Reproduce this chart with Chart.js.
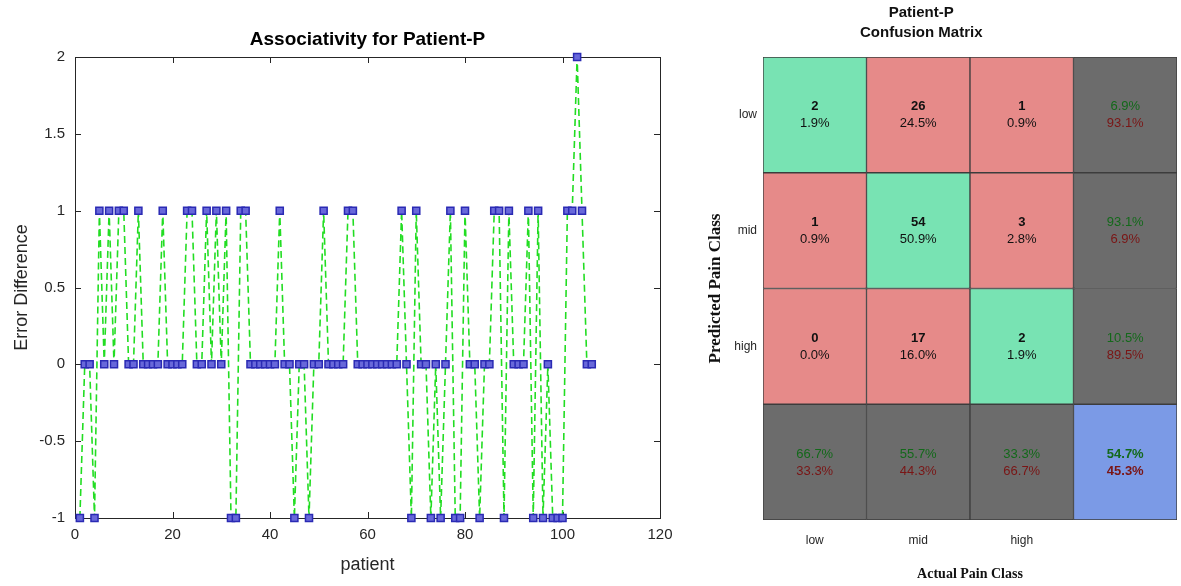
<!DOCTYPE html>
<html>
<head>
<meta charset="utf-8">
<script src="https://cdn.jsdelivr.net/npm/chart.js@4.4.1/dist/chart.umd.min.js"></script>
<style>
  body { margin: 0; background: #fff; }
  #assoc { position: absolute; left: 0; top: 0; }
  #confusion { position: absolute; left: 690px; top: 0; }
</style>
</head>
<body>
<canvas id="assoc" width="690" height="586"></canvas>
<canvas id="confusion" width="491" height="586"></canvas>
<script>
// error difference per patient (patient 1..106)
const errorDiff = [
  -1, 0, 0, -1, 1, 0, 1, 0, 1, 1,
  0, 0, 1, 0, 0, 0, 0, 1, 0, 0,
  0, 0, 1, 1, 0, 0, 1, 0, 1, 0,
  1, -1, -1, 1, 1, 0, 0, 0, 0, 0,
  0, 1, 0, 0, -1, 0, 0, -1, 0, 0,
  1, 0, 0, 0, 0, 1, 1, 0, 0, 0,
  0, 0, 0, 0, 0, 0, 1, 0, -1, 1,
  0, 0, -1, 0, -1, 0, 1, -1, -1, 1,
  0, 0, -1, 0, 0, 1, 1, -1, 1, 0,
  0, 0, 1, -1, 1, -1, 0, -1, -1, -1,
  1, 1, 2, 1, 0, 0
];

// confusion matrix: rows = predicted, columns = actual
const classes = ["low", "mid", "high"];
const counts = [
  [2, 26, 1],
  [1, 54, 3],
  [0, 17, 2]
];

const FONT = "'Liberation Sans', Arial, sans-serif";
const SERIF = "'Liberation Serif', 'Times New Roman', serif";
const TEXT = "#262626";

// ---------- left: associativity plot ----------
const points = errorDiff.map((v, i) => ({ x: i + 1, y: v }));

// box + inward ticks like matlab axes, title centred on the axes
const framePlugin = {
  id: "frame",
  beforeDatasetsDraw(chart) {
    const { ctx, chartArea: a, scales } = chart;
    ctx.save();
    ctx.strokeStyle = TEXT;
    ctx.lineWidth = 1;
    ctx.strokeRect(a.left + 0.5, a.top + 0.5, a.right - a.left, a.bottom - a.top);
    ctx.beginPath();
    scales.x.ticks.forEach(t => {
      const px = Math.round(scales.x.getPixelForValue(t.value)) + 0.5;
      ctx.moveTo(px, a.bottom); ctx.lineTo(px, a.bottom - 6);
      ctx.moveTo(px, a.top); ctx.lineTo(px, a.top + 6);
    });
    scales.y.ticks.forEach(t => {
      const py = Math.round(scales.y.getPixelForValue(t.value)) + 0.5;
      ctx.moveTo(a.left, py); ctx.lineTo(a.left + 6, py);
      ctx.moveTo(a.right, py); ctx.lineTo(a.right - 6, py);
    });
    ctx.stroke();

    ctx.fillStyle = "#000";
    ctx.font = "bold 19px " + FONT;
    ctx.textAlign = "center";
    ctx.textBaseline = "middle";
    ctx.fillText("Associativity for Patient-P", (a.left + a.right) / 2, 40);
    ctx.restore();
  }
};

new Chart(document.getElementById("assoc"), {
  type: "line",
  data: {
    datasets: [{
      data: points,
      borderColor: "#22dd22",
      borderWidth: 1.6,
      borderDash: [7, 4],
      pointStyle: "rect",
      pointRadius: 5,
      pointBackgroundColor: "#6868da",
      pointBorderColor: "#2a2ab4",
      pointBorderWidth: 1.5,
      tension: 0,
      clip: false
    }]
  },
  options: {
    responsive: false,
    animation: false,
    layout: { padding: { left: 0, right: 30, top: 57, bottom: 0 } },
    plugins: {
      legend: { display: false },
      tooltip: { enabled: false }
    },
    scales: {
      x: {
        type: "linear",
        min: 0, max: 120,
        ticks: { stepSize: 20, color: TEXT, font: { family: FONT, size: 15 }, padding: 8, maxRotation: 0 },
        grid: { display: false, drawTicks: false },
        border: { display: false },
        title: { display: true, text: "patient", color: TEXT, font: { family: FONT, size: 18 }, padding: { bottom: 10 } },
        afterFit: s => { s.height = 68; }
      },
      y: {
        min: -1, max: 2,
        ticks: { stepSize: 0.5, color: TEXT, font: { family: FONT, size: 15 }, padding: 10, callback: v => String(v) },
        grid: { display: false, drawTicks: false },
        border: { display: false },
        title: { display: true, text: "Error Difference", color: TEXT, font: { family: FONT, size: 18 }, padding: { top: 11 } },
        afterFit: s => { s.width = 75; }
      }
    }
  },
  plugins: [framePlugin]
});

// ---------- right: confusion matrix ----------
const GREEN = "#78e3b3";
const RED = "#e68a89";
const GREY = "#6c6c6c";
const BLUE = "#7b9ae6";

const total = counts.flat().reduce((a, b) => a + b, 0);
const rowSum = counts.map(r => r.reduce((a, b) => a + b, 0));
const colSum = classes.map((_, j) => counts.reduce((a, r) => a + r[j], 0));
const diagSum = counts.reduce((a, r, i) => a + r[i], 0);
const pct = v => (v * 100).toFixed(1) + "%";

// stacked bars: dataset 0 is the bottom (summary) row, dataset 3 the top (low) row
const rowOrder = [3, 2, 1, 0];
function cellColor(r, c) {
  if (r < 3 && c < 3) return r === c ? GREEN : RED;
  if (r === 3 && c === 3) return BLUE;
  return GREY;
}

const confDatasets = rowOrder.map(r => ({
  label: r < 3 ? classes[r] : "all",
  data: [1, 1, 1, 1],
  backgroundColor: [0, 1, 2, 3].map(c => cellColor(r, c)),
  borderColor: "#3c3c3c",
  borderWidth: 1,
  borderSkipped: false,
  barPercentage: 1,
  categoryPercentage: 1,
  row: r
}));

const cellTextPlugin = {
  id: "cellText",
  afterDatasetsDraw(chart) {
    const { ctx } = chart;
    ctx.save();
    ctx.textAlign = "center";
    ctx.textBaseline = "middle";
    chart.data.datasets.forEach((ds, di) => {
      const r = ds.row;
      chart.getDatasetMeta(di).data.forEach((bar, c) => {
        const cx = bar.x;
        const cy = (bar.y + bar.base) / 2;
        let top, bottom, topColor, bottomColor, bold = false;
        if (r < 3 && c < 3) {
          top = String(counts[r][c]);
          bottom = pct(counts[r][c] / total);
          topColor = bottomColor = "#111";
          bold = true;
        } else {
          let good;
          if (r < 3) good = counts[r][r] / rowSum[r];
          else if (c < 3) good = counts[c][c] / colSum[c];
          else good = diagSum / total;
          top = pct(good);
          bottom = pct(1 - good);
          topColor = "#13691a";
          bottomColor = "#7a1515";
        }
        const corner = r === 3 && c === 3;
        ctx.fillStyle = topColor;
        ctx.font = ((bold || corner) ? "bold " : "") + "13px " + FONT;
        ctx.fillText(top, cx, cy - 8);
        ctx.fillStyle = bottomColor;
        ctx.font = (corner ? "bold " : "") + "13px " + FONT;
        ctx.fillText(bottom, cx, cy + 9);
      });
    });
    // two-line title over the class columns
    const meta = chart.getDatasetMeta(0).data;
    const tx = ((meta[0].x - meta[0].width / 2) + (meta[2].x + meta[2].width / 2)) / 2;
    ctx.fillStyle = "#111";
    ctx.font = "bold 15px " + FONT;
    ctx.fillText("Patient-P", tx + 3, 13);
    ctx.fillText("Confusion Matrix", tx + 3, 33);
    ctx.restore();
  }
};

const rowTickNames = { 1.5: "high", 2.5: "mid", 3.5: "low" };

new Chart(document.getElementById("confusion"), {
  type: "bar",
  data: { labels: [...classes, ""], datasets: confDatasets },
  options: {
    responsive: false,
    animation: false,
    layout: { padding: { left: 0, right: 4, top: 57, bottom: 0 } },
    plugins: { legend: { display: false }, tooltip: { enabled: false } },
    scales: {
      x: {
        stacked: true,
        ticks: { color: TEXT, font: { family: FONT, size: 12 }, padding: 13 },
        grid: { display: false, drawTicks: false },
        border: { display: false },
        title: { display: true, text: "Actual Pain Class", color: "#111", font: { family: SERIF, size: 14, weight: "bold" }, padding: { bottom: 3 } },
        afterFit: s => { s.height = 66; }
      },
      y: {
        stacked: true,
        min: 0, max: 4,
        afterBuildTicks: s => { s.ticks = [1.5, 2.5, 3.5].map(v => ({ value: v })); },
        ticks: { color: TEXT, font: { family: FONT, size: 12 }, padding: 6, callback: v => rowTickNames[v] },
        grid: { display: false, drawTicks: false },
        border: { display: false },
        title: { display: true, text: "Predicted Pain Class", color: "#111", font: { family: SERIF, size: 17, weight: "bold" }, padding: { top: 15 } },
        afterFit: s => { s.width = 73; }
      }
    }
  },
  plugins: [cellTextPlugin]
});
</script>
</body>
</html>
